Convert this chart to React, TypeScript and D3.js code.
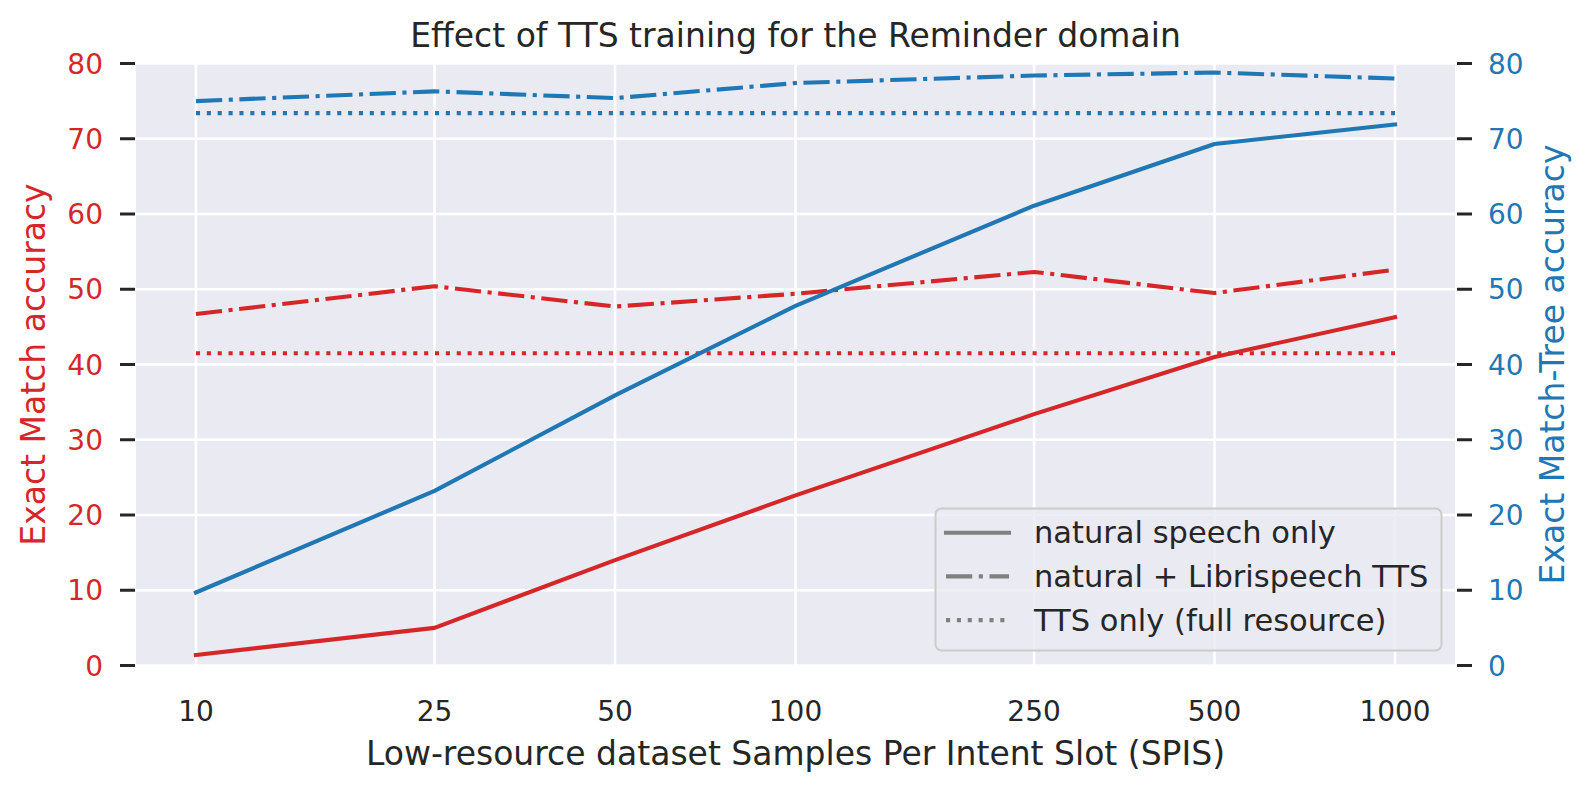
import React, { useEffect, useRef } from "react";
import * as d3 from "d3";

// samples per intent slot (x axis, log spaced)
const spis = [10, 25, 50, 100, 250, 500, 1000];

// Exact Match accuracy (left axis, red)
const emNatural = [1.4, 5.0, 14.0, 22.6, 33.4, 41.0, 46.3];
const emNaturalTts = [46.7, 50.4, 47.7, 49.4, 52.3, 49.5, 52.6];
const emTtsOnly = 41.5;

// Exact Match-Tree accuracy (right axis, blue)
const emtNatural = [9.7, 23.2, 35.9, 47.8, 61.1, 69.3, 71.9];
const emtNaturalTts = [75.0, 76.3, 75.4, 77.4, 78.4, 78.8, 78.0];
const emtTtsOnly = 73.4;

const yTicks = [0, 10, 20, 30, 40, 50, 60, 70, 80];
const legendLabels = [
  "natural speech only",
  "natural + Librispeech TTS",
  "TTS only (full resource)",
];

const App: React.FC = () => {
  const svgRef = useRef<SVGSVGElement | null>(null);

  useEffect(() => {
    const svg = d3.select(svgRef.current);
    svg.selectAll("*").remove();

    const W = 1592;
    const H = 792;
    const plot = { left: 136, right: 1455, top: 63.5, bottom: 665.5 };
    const font = "DejaVu Sans";
    const red = "#d62728";
    const blue = "#1f77b4";
    const dark = "#262626";
    const lw = 4.1;
    const dashDot = [6.4, 1.6, 1, 1.6].map((d) => d * lw).join(",");
    const dotted = [1, 1.65].map((d) => d * lw).join(",");

    // log scale with matplotlib-like 5% margins
    const pad = 0.1;
    const x = d3
      .scaleLog()
      .domain([10 / Math.pow(10, pad), 1000 * Math.pow(10, pad)])
      .range([plot.left, plot.right]);
    const yLeft = d3.scaleLinear().domain([0, 80]).range([plot.bottom, plot.top]);
    const yRight = d3.scaleLinear().domain([0, 80]).range([plot.bottom, plot.top]);

    svg.append("rect").attr("width", W).attr("height", H).attr("fill", "white");

    const g = svg.append("g").style("font-family", font);

    // axes background
    g.append("rect")
      .attr("x", plot.left)
      .attr("y", plot.top)
      .attr("width", plot.right - plot.left)
      .attr("height", plot.bottom - plot.top)
      .attr("fill", "#eaeaf2");

    // grid
    g.selectAll(".hgrid")
      .data(yTicks)
      .enter()
      .append("line")
      .attr("x1", plot.left)
      .attr("x2", plot.right)
      .attr("y1", (d) => yLeft(d))
      .attr("y2", (d) => yLeft(d))
      .attr("stroke", "white")
      .attr("stroke-width", 2.6);

    g.selectAll(".vgrid")
      .data(spis)
      .enter()
      .append("line")
      .attr("x1", (d) => x(d))
      .attr("x2", (d) => x(d))
      .attr("y1", plot.top)
      .attr("y2", plot.bottom)
      .attr("stroke", "white")
      .attr("stroke-width", 2.6);

    // left y axis ticks + labels
    g.selectAll(".ltick")
      .data(yTicks)
      .enter()
      .append("line")
      .attr("x1", plot.left - 16)
      .attr("x2", plot.left - 1)
      .attr("y1", (d) => yLeft(d))
      .attr("y2", (d) => yLeft(d))
      .attr("stroke", dark)
      .attr("stroke-width", 3);

    g.selectAll(".llabel")
      .data(yTicks)
      .enter()
      .append("text")
      .attr("x", 103)
      .attr("y", (d) => yLeft(d) + 10)
      .attr("text-anchor", "end")
      .attr("fill", red)
      .style("font-size", "28px")
      .text((d) => d);

    // right y axis ticks + labels
    g.selectAll(".rtick")
      .data(yTicks)
      .enter()
      .append("line")
      .attr("x1", plot.right + 2)
      .attr("x2", plot.right + 17)
      .attr("y1", (d) => yRight(d))
      .attr("y2", (d) => yRight(d))
      .attr("stroke", dark)
      .attr("stroke-width", 3);

    g.selectAll(".rlabel")
      .data(yTicks)
      .enter()
      .append("text")
      .attr("x", 1488)
      .attr("y", (d) => yRight(d) + 10)
      .attr("text-anchor", "start")
      .attr("fill", blue)
      .style("font-size", "28px")
      .text((d) => d);

    // x tick labels
    g.selectAll(".xlabel")
      .data(spis)
      .enter()
      .append("text")
      .attr("x", (d) => x(d))
      .attr("y", 721)
      .attr("text-anchor", "middle")
      .attr("fill", dark)
      .style("font-size", "28px")
      .text((d) => d);

    // axis titles
    const cx = (plot.left + plot.right) / 2;
    const cy = (plot.top + plot.bottom) / 2;

    g.append("text")
      .attr("x", cx)
      .attr("y", 765)
      .attr("text-anchor", "middle")
      .attr("fill", dark)
      .style("font-size", "33px")
      .text("Low-resource dataset Samples Per Intent Slot (SPIS)");

    g.append("text")
      .attr("transform", `translate(45,${cy}) rotate(-90)`)
      .attr("text-anchor", "middle")
      .attr("fill", red)
      .style("font-size", "33px")
      .text("Exact Match accuracy");

    g.append("text")
      .attr("transform", `translate(1564,${cy}) rotate(-90)`)
      .attr("text-anchor", "middle")
      .attr("fill", blue)
      .style("font-size", "33px")
      .text("Exact Match-Tree accuracy");

    g.append("text")
      .attr("x", cx)
      .attr("y", 47)
      .attr("text-anchor", "middle")
      .attr("fill", dark)
      .style("font-size", "33px")
      .text("Effect of TTS training for the Reminder domain");

    // series
    const series = [
      { values: emNatural, y: yLeft, color: red, dash: null },
      { values: emNaturalTts, y: yLeft, color: red, dash: dashDot },
      { values: spis.map(() => emTtsOnly), y: yLeft, color: red, dash: dotted },
      { values: emtNatural, y: yRight, color: blue, dash: null },
      { values: emtNaturalTts, y: yRight, color: blue, dash: dashDot },
      { values: spis.map(() => emtTtsOnly), y: yRight, color: blue, dash: dotted },
    ];

    series.forEach((s) => {
      const line = d3
        .line<number>()
        .x((_d, i) => x(spis[i]))
        .y((d) => s.y(d));
      g.append("path")
        .datum(s.values)
        .attr("d", line)
        .attr("fill", "none")
        .attr("stroke", s.color)
        .attr("stroke-width", lw)
        .attr("stroke-linejoin", "round")
        .attr("stroke-linecap", s.dash ? "butt" : "square")
        .attr("stroke-dasharray", s.dash);
    });

    // legend
    const lg = { x: 935.5, y: 508.5, w: 506, h: 142 };
    g.append("rect")
      .attr("x", lg.x)
      .attr("y", lg.y)
      .attr("width", lg.w)
      .attr("height", lg.h)
      .attr("rx", 6)
      .attr("fill", "#eaeaf2")
      .attr("fill-opacity", 0.8)
      .attr("stroke", "#cccccc")
      .attr("stroke-width", 2);

    const legendDash = [null, dashDot, dotted];
    legendLabels.forEach((label, i) => {
      const ry = 532.7 + i * 43.7;
      g.append("line")
        .attr("x1", 946)
        .attr("x2", 1009)
        .attr("y1", ry)
        .attr("y2", ry)
        .attr("stroke", "gray")
        .attr("stroke-width", lw)
        .attr("stroke-linecap", legendDash[i] ? "butt" : "square")
        .attr("stroke-dasharray", legendDash[i]);
      g.append("text")
        .attr("x", 1034)
        .attr("y", ry + 10.6)
        .attr("fill", dark)
        .style("font-size", "30.5px")
        .text(label);
    });
  }, []);

  return (
    <div style={{ position: "absolute", left: 0, top: 0 }}>
      <svg ref={svgRef} width={1592} height={792} style={{ display: "block" }}></svg>
    </div>
  );
};

export default App;
